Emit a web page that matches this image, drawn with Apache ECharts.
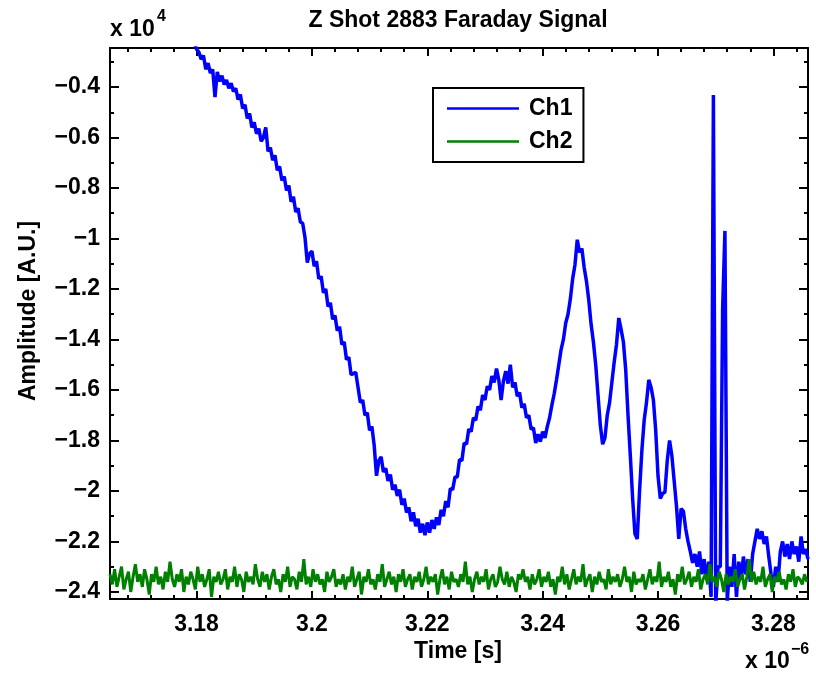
<!DOCTYPE html>
<html><head><meta charset="utf-8">
<script src="https://cdn.jsdelivr.net/npm/echarts@6/dist/echarts.min.js"></script>
<style>html,body{margin:0;padding:0;background:#fff}#c{width:816px;height:674px}</style>
</head><body><div id="c"></div>
<script>
// Time in units of 1e-6 s, amplitude in units of 1e4 A.U.
const ch1Start = 3.178;
const ch2Start = 3.165;
const sampleStep = 0.0004;
const seriesNames = ['Ch1', 'Ch2'];

const ch1Values = [
-0.150,-0.172,-0.185,-0.210,-0.222,-0.250,-0.262,-0.290,-0.275,-0.330,
-0.305,-0.345,-0.330,-0.440,-0.340,-0.378,-0.355,-0.390,-0.372,-0.405,
-0.385,-0.418,-0.405,-0.450,-0.430,-0.485,-0.470,-0.525,-0.505,-0.560,
-0.540,-0.585,-0.565,-0.615,-0.600,-0.560,-0.655,-0.640,-0.690,-0.670,
-0.730,-0.715,-0.770,-0.755,-0.810,-0.790,-0.855,-0.835,-0.895,-0.880,
-0.935,-0.940,-0.995,-1.095,-1.060,-1.050,-1.110,-1.090,-1.160,-1.150,
-1.215,-1.200,-1.270,-1.255,-1.320,-1.305,-1.365,-1.350,-1.420,-1.410,
-1.480,-1.470,-1.540,-1.535,-1.530,-1.590,-1.650,-1.640,-1.700,-1.690,
-1.760,-1.745,-1.820,-1.940,-1.880,-1.865,-1.925,-1.910,-1.960,-1.935,
-1.995,-1.975,-2.020,-1.995,-2.055,-2.030,-2.085,-2.065,-2.120,-2.085,
-2.140,-2.110,-2.165,-2.130,-2.175,-2.125,-2.165,-2.115,-2.150,-2.105,
-2.135,-2.075,-2.100,-2.040,-2.065,-1.990,-1.995,-1.945,-1.945,-1.875,
-1.880,-1.810,-1.815,-1.755,-1.765,-1.710,-1.720,-1.665,-1.680,-1.620,
-1.640,-1.585,-1.600,-1.545,-1.570,-1.515,-1.560,-1.640,-1.565,-1.525,
-1.575,-1.500,-1.590,-1.570,-1.625,-1.610,-1.670,-1.655,-1.710,-1.700,
-1.755,-1.750,-1.810,-1.775,-1.805,-1.765,-1.790,-1.745,-1.710,-1.660,
-1.615,-1.560,-1.500,-1.440,-1.400,-1.335,-1.300,-1.240,-1.160,-1.105,
-1.005,-1.055,-1.040,-1.115,-1.170,-1.245,-1.340,-1.410,-1.500,-1.620,
-1.740,-1.815,-1.790,-1.700,-1.650,-1.570,-1.490,-1.420,-1.315,-1.360,
-1.410,-1.520,-1.700,-1.860,-2.030,-2.170,-2.190,-2.000,-1.840,-1.720,
-1.650,-1.560,-1.590,-1.640,-1.760,-1.940,-2.030,-2.010,-2.005,-1.880,
-1.800,-1.860,-1.960,-2.060,-2.190,-2.070,-2.080,-2.150,-2.200,-2.240,
-2.285,-2.250,-2.300,-2.240,-2.330,-2.270,-2.350,-2.280,-2.420,-0.432,
-2.450,-2.300,-2.300,-1.280,-0.970,-2.440,-2.300,-2.380,-2.250,-2.420,
-2.280,-2.350,-2.260,-2.330,-2.270,-2.360,-2.250,-2.200,-2.150,-2.190,
-2.160,-2.210,-2.180,-2.260,-2.330,-2.380,-2.300,-2.360,-2.240,-2.200,
-2.260,-2.210,-2.270,-2.200,-2.250,-2.220,-2.280,-2.180,-2.250,-2.230,
-2.270
];

const ch2Values = [
-2.33,-2.37,-2.31,-2.38,-2.34,-2.30,-2.39,-2.35,-2.32,-2.40,
-2.34,-2.29,-2.36,-2.33,-2.38,-2.31,-2.35,-2.41,-2.33,-2.36,
-2.30,-2.37,-2.34,-2.39,-2.32,-2.36,-2.28,-2.35,-2.38,-2.33,
-2.36,-2.31,-2.40,-2.34,-2.37,-2.32,-2.35,-2.39,-2.30,-2.36,
-2.33,-2.38,-2.35,-2.31,-2.42,-2.34,-2.36,-2.32,-2.37,-2.35,
-2.31,-2.39,-2.34,-2.36,-2.30,-2.38,-2.33,-2.35,-2.40,-2.32,
-2.36,-2.34,-2.37,-2.29,-2.35,-2.38,-2.32,-2.36,-2.33,-2.39,
-2.34,-2.31,-2.37,-2.35,-2.40,-2.33,-2.36,-2.30,-2.38,-2.34,
-2.35,-2.39,-2.32,-2.36,-2.27,-2.37,-2.34,-2.38,-2.31,-2.36,
-2.33,-2.37,-2.35,-2.40,-2.32,-2.36,-2.34,-2.31,-2.38,-2.35,
-2.37,-2.33,-2.39,-2.34,-2.36,-2.30,-2.38,-2.35,-2.32,-2.41,
-2.34,-2.36,-2.31,-2.37,-2.35,-2.39,-2.33,-2.36,-2.29,-2.38,
-2.35,-2.32,-2.37,-2.34,-2.40,-2.33,-2.36,-2.31,-2.38,-2.35,
-2.33,-2.39,-2.34,-2.36,-2.32,-2.38,-2.35,-2.30,-2.37,-2.34,
-2.36,-2.33,-2.41,-2.35,-2.31,-2.37,-2.34,-2.39,-2.32,-2.36,
-2.35,-2.38,-2.33,-2.36,-2.28,-2.37,-2.34,-2.40,-2.35,-2.32,
-2.37,-2.34,-2.36,-2.31,-2.39,-2.35,-2.33,-2.38,-2.36,-2.30,
-2.35,-2.37,-2.32,-2.38,-2.34,-2.36,-2.40,-2.33,-2.35,-2.31,
-2.36,-2.34,-2.39,-2.33,-2.37,-2.35,-2.31,-2.38,-2.34,-2.36,
-2.32,-2.38,-2.35,-2.41,-2.34,-2.36,-2.30,-2.37,-2.33,-2.39,
-2.35,-2.31,-2.37,-2.34,-2.36,-2.29,-2.38,-2.35,-2.33,-2.40,
-2.34,-2.37,-2.32,-2.36,-2.35,-2.39,-2.31,-2.37,-2.34,-2.36,
-2.33,-2.38,-2.35,-2.30,-2.36,-2.34,-2.40,-2.32,-2.37,-2.35,
-2.36,-2.33,-2.39,-2.35,-2.31,-2.37,-2.34,-2.36,-2.28,-2.38,
-2.34,-2.36,-2.32,-2.38,-2.35,-2.41,-2.33,-2.36,-2.30,-2.37,
-2.35,-2.32,-2.38,-2.34,-2.36,-2.31,-2.39,-2.35,-2.33,-2.37,
-2.29,-2.36,-2.34,-2.38,-2.32,-2.35,-2.40,-2.33,-2.37,-2.34,
-2.36,-2.31,-2.38,-2.35,-2.33,-2.39,-2.34,-2.27,-2.36,-2.32,
-2.37,-2.34,-2.36,-2.30,-2.38,-2.35,-2.33,-2.40,-2.34,-2.36,
-2.32,-2.37,-2.35,-2.39,-2.33,-2.36,-2.31,-2.38,-2.34,-2.35,
-2.37,-2.33,-2.36
];

const xTickLabels = [3.18, 3.2, 3.22, 3.24, 3.26, 3.28];
const yTickLabels = [-2.4, -2.2, -2, -1.8, -1.6, -1.4, -1.2, -1, -0.8, -0.6, -0.4];
const xRange = [3.165, 3.286];
const yRange = [-2.428, -0.2455];
const xMinorStep = 0.004;
const yMinorStep = 0.1;

function minorTicks(range, step) {
  const out = [];
  for (let k = Math.ceil(range[0] / step - 1e-9); k * step <= range[1] + 1e-9; k++) {
    out.push(Math.round(k * step * 1e6) / 1e6);
  }
  return out;
}
const xMinor = minorTicks(xRange, xMinorStep);
const yMinor = minorTicks(yRange, yMinorStep);

const ch1Data = ch1Values.map((v, i) => [ch1Start + i * sampleStep, v]);
const ch2Data = ch2Values.map((v, i) => [ch2Start + i * sampleStep, v]);

const FONT = "'Liberation Sans', Arial, Helvetica, sans-serif";
const FS = 23;

function fmtY(v) {
  const a = Math.abs(v);
  const s = String(Number(a.toFixed(2)));
  return (v < 0 ? '\u2212' : '') + s;
}

function xAx(pos, major, labels) {
  return {
    type: 'value', position: pos, min: xRange[0], max: xRange[1],
    axisLine: { show: major, onZero: false, lineStyle: { color: '#000', width: 2 } },
    axisTick: { show: true, inside: true, length: major ? 8 : 4, customValues: major ? xTickLabels : xMinor,
      lineStyle: { color: '#000', width: 2 } },
    axisLabel: { show: labels, customValues: xTickLabels, margin: 14,
      formatter: v => String(Number(v.toFixed(2))),
      color: '#000', fontSize: FS, fontWeight: 'bold', fontFamily: FONT },
    splitLine: { show: false }
  };
}
function yAx(pos, major, labels) {
  return {
    type: 'value', position: pos, min: yRange[0], max: yRange[1],
    axisLine: { show: major, onZero: false, lineStyle: { color: '#000', width: 2 } },
    axisTick: { show: true, inside: true, length: major ? 9 : 4, customValues: major ? yTickLabels : yMinor,
      lineStyle: { color: '#000', width: 2 } },
    axisLabel: { show: labels, customValues: yTickLabels, margin: 10, formatter: fmtY,
      color: '#000', fontSize: FS, fontWeight: 'bold', fontFamily: FONT },
    splitLine: { show: false }
  };
}

const chart = echarts.init(document.getElementById('c'), null, { renderer: 'canvas' });
chart.setOption({
  animation: false,
  backgroundColor: '#fff',
  grid: { left: 110, right: 8, top: 48, bottom: 75, containLabel: false },
  xAxis: [xAx('bottom', true, true), xAx('bottom', false, false), xAx('top', true, false), xAx('top', false, false)],
  yAxis: [yAx('left', true, true), yAx('left', false, false), yAx('right', true, false), yAx('right', false, false)],
  legend: {
    data: seriesNames, orient: 'vertical', left: 433, top: 88, icon: 'rect',
    padding: [9, 11, 9, 14], itemWidth: 72, itemHeight: 2.5, itemGap: 10,
    borderColor: '#000', borderWidth: 2, backgroundColor: '#fff',
    textStyle: { fontSize: FS, fontWeight: 'bold', color: '#000', fontFamily: FONT, padding: [0, 0, 0, 5] }
  },
  graphic: [
    { type: 'text', x: 458, y: 21, style: { text: 'Z Shot 2883 Faraday Signal', fill: '#000',
      font: 'bold ' + FS + 'px ' + FONT, textAlign: 'center', textVerticalAlign: 'middle' } },
    { type: 'text', x: 458, y: 652, style: { text: 'Time [s]', fill: '#000',
      font: 'bold ' + FS + 'px ' + FONT, textAlign: 'center', textVerticalAlign: 'middle' } },
    { type: 'text', x: 29, y: 311, rotation: Math.PI / 2, style: { text: 'Amplitude [A.U.]', fill: '#000',
      font: 'bold ' + FS + 'px ' + FONT, textAlign: 'center', textVerticalAlign: 'middle' } },
    { type: 'text', x: 110, y: 30, style: { text: 'x 10', fill: '#000',
      font: 'bold ' + FS + 'px ' + FONT, textAlign: 'left', textVerticalAlign: 'middle' } },
    { type: 'text', x: 157, y: 17, style: { text: '4', fill: '#000',
      font: 'bold 16px ' + FONT, textAlign: 'left', textVerticalAlign: 'middle' } },
    { type: 'text', x: 745, y: 662, style: { text: 'x 10', fill: '#000',
      font: 'bold ' + FS + 'px ' + FONT, textAlign: 'left', textVerticalAlign: 'middle' } },
    { type: 'text', x: 791, y: 650, style: { text: '\u22126', fill: '#000',
      font: 'bold 16px ' + FONT, textAlign: 'left', textVerticalAlign: 'middle' } }
  ],
  series: [
    { name: seriesNames[0], type: 'line', data: ch1Data, xAxisIndex: 0, yAxisIndex: 0,
      symbol: 'none', showSymbol: false, sampling: null, clip: true,
      lineStyle: { color: '#0000ff', width: 3.5 }, itemStyle: { color: '#0000ff' } },
    { name: seriesNames[1], type: 'line', data: ch2Data, xAxisIndex: 0, yAxisIndex: 0,
      symbol: 'none', showSymbol: false, sampling: null, clip: true,
      lineStyle: { color: '#008000', width: 3 }, itemStyle: { color: '#008000' } }
  ]
});
</script></body></html>
